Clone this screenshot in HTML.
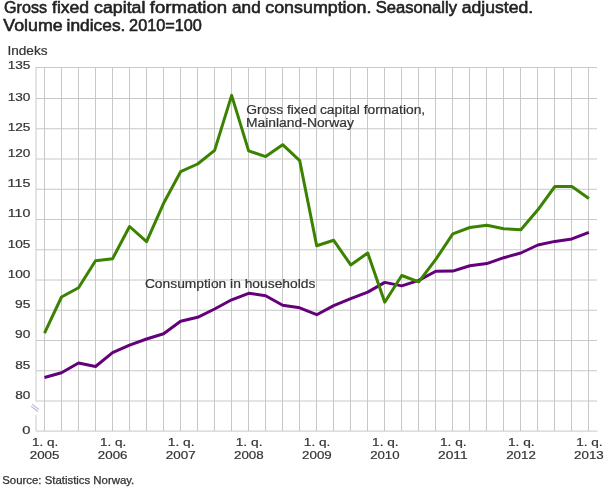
<!DOCTYPE html>
<html><head><meta charset="utf-8"><title>Gross fixed capital formation and consumption</title>
<style>
html,body{margin:0;padding:0;background:#fff;}
body{width:610px;height:488px;overflow:hidden;}
svg{display:block;}

.t{filter:url(#gs)}
text{font-family:"Liberation Sans",Arial,sans-serif;}
</style></head><body>
<svg width="610" height="488" viewBox="0 0 610 488">
<defs><filter id="gs" x="0" y="0" width="610" height="488" filterUnits="userSpaceOnUse"><feColorMatrix type="saturate" values="0"/></filter></defs>
<rect width="610" height="488" fill="#fff"/>
<g class="t" fill="#222" stroke="#222" stroke-width="0.55" font-size="15.8">
<text x="4.04" y="12.8" textLength="42.97" lengthAdjust="spacingAndGlyphs">Gross</text>
<text x="52.00" y="12.8" textLength="37.15" lengthAdjust="spacingAndGlyphs">fixed</text>
<text x="94.07" y="12.8" textLength="51.35" lengthAdjust="spacingAndGlyphs">capital</text>
<text x="149.82" y="12.8" textLength="77.28" lengthAdjust="spacingAndGlyphs">formation</text>
<text x="232.09" y="12.8" textLength="28.61" lengthAdjust="spacingAndGlyphs">and</text>
<text x="265.28" y="12.8" textLength="106.14" lengthAdjust="spacingAndGlyphs">consumption.</text>
<text x="375.66" y="12.8" textLength="81.39" lengthAdjust="spacingAndGlyphs">Seasonally</text>
<text x="461.66" y="12.8" textLength="71.46" lengthAdjust="spacingAndGlyphs">adjusted.</text>
<text x="3.30" y="30.6" textLength="59.34" lengthAdjust="spacingAndGlyphs">Volume</text>
<text x="66.63" y="30.6" textLength="58.74" lengthAdjust="spacingAndGlyphs">indices.</text>
<text x="129.14" y="30.6" textLength="72.77" lengthAdjust="spacingAndGlyphs">2010=100</text>
</g>
<g stroke="#c8c8c8" stroke-width="1" fill="none">
<line x1="44.5" y1="67" x2="44.5" y2="431" />
<line x1="61.5" y1="67" x2="61.5" y2="431" />
<line x1="78.5" y1="67" x2="78.5" y2="431" />
<line x1="95.5" y1="67" x2="95.5" y2="431" />
<line x1="112.5" y1="67" x2="112.5" y2="431" />
<line x1="129.5" y1="67" x2="129.5" y2="431" />
<line x1="146.5" y1="67" x2="146.5" y2="431" />
<line x1="163.5" y1="67" x2="163.5" y2="431" />
<line x1="180.5" y1="67" x2="180.5" y2="431" />
<line x1="197.5" y1="67" x2="197.5" y2="431" />
<line x1="214.5" y1="67" x2="214.5" y2="431" />
<line x1="231.5" y1="67" x2="231.5" y2="431" />
<line x1="248.5" y1="67" x2="248.5" y2="431" />
<line x1="265.5" y1="67" x2="265.5" y2="431" />
<line x1="282.5" y1="67" x2="282.5" y2="431" />
<line x1="299.5" y1="67" x2="299.5" y2="431" />
<line x1="316.5" y1="67" x2="316.5" y2="431" />
<line x1="333.5" y1="67" x2="333.5" y2="431" />
<line x1="350.5" y1="67" x2="350.5" y2="431" />
<line x1="367.5" y1="67" x2="367.5" y2="431" />
<line x1="384.5" y1="67" x2="384.5" y2="431" />
<line x1="401.5" y1="67" x2="401.5" y2="431" />
<line x1="418.5" y1="67" x2="418.5" y2="431" />
<line x1="435.5" y1="67" x2="435.5" y2="431" />
<line x1="452.5" y1="67" x2="452.5" y2="431" />
<line x1="469.5" y1="67" x2="469.5" y2="431" />
<line x1="486.5" y1="67" x2="486.5" y2="431" />
<line x1="503.5" y1="67" x2="503.5" y2="431" />
<line x1="520.5" y1="67" x2="520.5" y2="431" />
<line x1="537.5" y1="67" x2="537.5" y2="431" />
<line x1="554.5" y1="67" x2="554.5" y2="431" />
<line x1="571.5" y1="67" x2="571.5" y2="431" />
<line x1="588.5" y1="67" x2="588.5" y2="431" />
<line x1="36" y1="67.50" x2="597" y2="67.50" />
<line x1="36" y1="98.50" x2="597" y2="98.50" />
<line x1="36" y1="128.75" x2="597" y2="128.75" />
<line x1="36" y1="159.00" x2="597" y2="159.00" />
<line x1="36" y1="189.25" x2="597" y2="189.25" />
<line x1="36" y1="219.50" x2="597" y2="219.50" />
<line x1="36" y1="249.75" x2="597" y2="249.75" />
<line x1="36" y1="280.00" x2="597" y2="280.00" />
<line x1="36" y1="310.25" x2="597" y2="310.25" />
<line x1="36" y1="340.50" x2="597" y2="340.50" />
<line x1="36" y1="370.75" x2="597" y2="370.75" />
<line x1="36" y1="401.00" x2="597" y2="401.00" />
<line x1="36" y1="67" x2="36" y2="401.5" />
<line x1="36" y1="415" x2="36" y2="431" />
<line x1="36" y1="431.1" x2="597.5" y2="431.1" />
</g>
<g stroke="#bdbdd2" stroke-width="1.15">
<line x1="32.1" y1="404.1" x2="38.9" y2="409.5"/>
<line x1="31.1" y1="406.2" x2="37.9" y2="411.5"/>
</g>
<g fill="none" stroke-width="3" stroke-linejoin="round" stroke-linecap="butt">
<polyline stroke="#63007a" points="44.50,377.5 61.51,372.8 78.53,363 95.54,366.5 112.55,352.7 129.56,345.2 146.57,339 163.59,333.7 180.60,321.2 197.61,317.3 214.62,309 231.64,299.8 248.65,293.3 265.66,295.7 282.67,305.2 299.69,307.8 316.70,314.7 333.71,305.6 350.72,298.6 367.74,292.1 384.75,282.4 401.76,285.9 418.77,280.4 435.79,271.3 452.80,271.1 469.81,265.7 486.82,263.6 503.84,257.7 520.85,253 537.86,245 554.88,241.4 571.89,238.9 588.90,232.4"/>
<polyline stroke="#3b8200" points="44.50,333.2 61.51,297 78.53,287.8 95.54,260.8 112.55,258.7 129.56,226.5 146.57,241.7 163.59,203.3 180.60,171.7 197.61,164 214.62,150.4 231.64,95.4 248.65,150.9 265.66,156.6 282.67,144.7 299.69,160.6 316.70,245.7 333.71,240.3 350.72,264.9 367.74,253.0 384.75,302.2 401.76,275.5 418.77,281.8 435.79,259.4 452.80,233.8 469.81,227.5 486.82,225.3 503.84,228.7 520.85,229.8 537.86,209.8 554.88,186.5 571.89,186.5 588.90,198.4"/>
</g>
<g class="t" fill="#333" stroke="#333" stroke-width="0.2" font-size="12">
<text x="7.43" y="54.8" textLength="40.16" lengthAdjust="spacingAndGlyphs">Indeks</text>
<text x="246.18" y="113.7" textLength="179.03" lengthAdjust="spacingAndGlyphs">Gross fixed capital formation,</text>
<text x="245.99" y="127.3" textLength="107.91" lengthAdjust="spacingAndGlyphs">Mainland-Norway</text>
<text x="144.90" y="287.7" textLength="170.46" lengthAdjust="spacingAndGlyphs">Consumption in households</text>
</g>
<g class="t" fill="#333" stroke="#333" stroke-width="0.2" font-size="11.4">
<text x="7.66" y="69" textLength="22.78" lengthAdjust="spacingAndGlyphs">135</text>
<text x="7.70" y="101" textLength="22.77" lengthAdjust="spacingAndGlyphs">130</text>
<text x="7.66" y="131" textLength="22.78" lengthAdjust="spacingAndGlyphs">125</text>
<text x="7.70" y="157" textLength="22.77" lengthAdjust="spacingAndGlyphs">120</text>
<text x="7.63" y="187" textLength="22.77" lengthAdjust="spacingAndGlyphs">115</text>
<text x="7.74" y="217" textLength="22.63" lengthAdjust="spacingAndGlyphs">110</text>
<text x="7.66" y="248" textLength="22.78" lengthAdjust="spacingAndGlyphs">105</text>
<text x="7.71" y="278" textLength="22.76" lengthAdjust="spacingAndGlyphs">100</text>
<text x="15.02" y="308" textLength="15.40" lengthAdjust="spacingAndGlyphs">95</text>
<text x="15.14" y="338" textLength="15.26" lengthAdjust="spacingAndGlyphs">90</text>
<text x="15.30" y="369" textLength="15.05" lengthAdjust="spacingAndGlyphs">85</text>
<text x="15.26" y="399" textLength="15.12" lengthAdjust="spacingAndGlyphs">80</text>
<text x="22.23" y="434" textLength="8.17" lengthAdjust="spacingAndGlyphs">0</text>
<text x="31.94" y="446" textLength="26.36" lengthAdjust="spacingAndGlyphs">1. q.</text>
<text x="29.76" y="459" textLength="29.68" lengthAdjust="spacingAndGlyphs">2005</text>
<text x="99.96" y="446" textLength="26.39" lengthAdjust="spacingAndGlyphs">1. q.</text>
<text x="97.86" y="459" textLength="29.63" lengthAdjust="spacingAndGlyphs">2006</text>
<text x="167.75" y="446" textLength="26.74" lengthAdjust="spacingAndGlyphs">1. q.</text>
<text x="165.84" y="459" textLength="29.83" lengthAdjust="spacingAndGlyphs">2007</text>
<text x="235.71" y="446" textLength="26.77" lengthAdjust="spacingAndGlyphs">1. q.</text>
<text x="234.02" y="459" textLength="29.66" lengthAdjust="spacingAndGlyphs">2008</text>
<text x="303.89" y="446" textLength="26.49" lengthAdjust="spacingAndGlyphs">1. q.</text>
<text x="302.12" y="459" textLength="29.62" lengthAdjust="spacingAndGlyphs">2009</text>
<text x="372.11" y="446" textLength="26.48" lengthAdjust="spacingAndGlyphs">1. q.</text>
<text x="370.16" y="459" textLength="29.36" lengthAdjust="spacingAndGlyphs">2010</text>
<text x="439.95" y="446" textLength="26.60" lengthAdjust="spacingAndGlyphs">1. q.</text>
<text x="438.06" y="459" textLength="29.63" lengthAdjust="spacingAndGlyphs">2011</text>
<text x="507.99" y="446" textLength="26.70" lengthAdjust="spacingAndGlyphs">1. q.</text>
<text x="506.21" y="459" textLength="29.59" lengthAdjust="spacingAndGlyphs">2012</text>
<text x="576.19" y="446" textLength="26.44" lengthAdjust="spacingAndGlyphs">1. q.</text>
<text x="574.08" y="459" textLength="29.66" lengthAdjust="spacingAndGlyphs">2013</text>
</g>
<g class="t" fill="#333" stroke="#333" stroke-width="0.25" font-size="10">
<text x="2.27" y="483.8" textLength="132.02" lengthAdjust="spacingAndGlyphs">Source: Statistics Norway.</text>
</g>
</svg>
</body></html>
